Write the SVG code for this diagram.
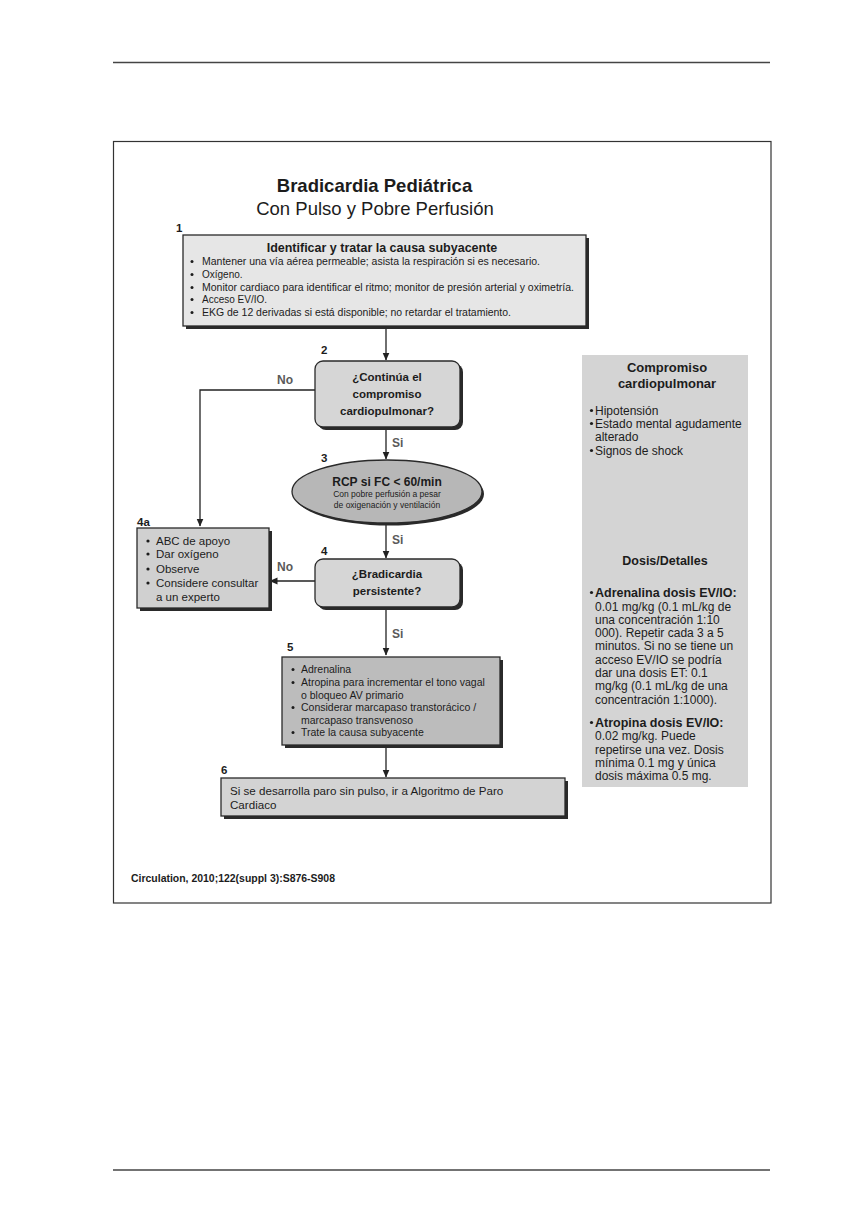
<svg xmlns="http://www.w3.org/2000/svg" width="843" height="1229" viewBox="0 0 843 1229">
<style>
text{font-family:"Liberation Sans",Arial,sans-serif;fill:#1c1c1c}
.b{font-weight:bold}
.num{font-weight:bold;font-size:11.5px}
.lbl{font-weight:bold;font-size:12px;fill:#5a5a5a}
.box{stroke:#2a2a2a;stroke-width:1.3}
.sh{fill:#2a2a2a}
.conn{fill:none;stroke:#222;stroke-width:1.3}
.dot{fill:#1c1c1c}
</style>
<defs>
<marker id="ah" markerWidth="8" markerHeight="8" refX="7.5" refY="4" orient="auto" markerUnits="userSpaceOnUse">
<path d="M0,0.5 L8,4 L0,7.5 z" fill="#222"/>
</marker>
</defs>
<rect x="0" y="0" width="843" height="1229" fill="#ffffff"/>
<line x1="113" y1="62.5" x2="770" y2="62.5" stroke="#444" stroke-width="1.3"/>
<line x1="113" y1="1170" x2="770" y2="1170" stroke="#444" stroke-width="1.3"/>
<rect x="113.5" y="141.5" width="657.5" height="761.5" fill="none" stroke="#333" stroke-width="1.2"/>

<g id="title">
<text x="374.5" y="191.5" text-anchor="middle" class="b" font-size="18.5">Bradicardia Pediátrica</text>
<text x="375" y="215" text-anchor="middle" font-size="18.5">Con Pulso y Pobre Perfusión</text>
</g>

<g id="connectors">
<line class="conn" x1="386" y1="327" x2="386" y2="360" marker-end="url(#ah)"/>
<line class="conn" x1="386" y1="428" x2="386" y2="459" marker-end="url(#ah)"/>
<line class="conn" x1="386" y1="524" x2="386" y2="558" marker-end="url(#ah)"/>
<line class="conn" x1="386" y1="608" x2="386" y2="655" marker-end="url(#ah)"/>
<line class="conn" x1="386" y1="746" x2="386" y2="777" marker-end="url(#ah)"/>
<polyline class="conn" points="315,390 200,390 200,526" marker-end="url(#ah)"/>
<line class="conn" x1="315" y1="581" x2="270" y2="581" marker-end="url(#ah)"/>
<text x="277" y="384" class="lbl">No</text>
<text x="392" y="447" class="lbl">Si</text>
<text x="392" y="544" class="lbl">Si</text>
<text x="277" y="571" class="lbl">No</text>
<text x="392" y="638" class="lbl">Si</text>
</g>

<g id="node1">
<text x="176" y="232" class="num">1</text>
<rect x="186" y="238" width="403" height="91" class="sh"/>
<rect x="183" y="235" width="403" height="91" fill="#e6e6e6" class="box"/>
<text x="382" y="252" text-anchor="middle" class="b" font-size="12.5">Identificar y tratar la causa subyacente</text>
<g font-size="10">
<circle class="dot" cx="192" cy="261.5" r="1.5"/>
<text x="202" y="265" textLength="338" lengthAdjust="spacingAndGlyphs">Mantener una vía aérea permeable; asista la respiración si es necesario.</text>
<circle class="dot" cx="192" cy="274.5" r="1.5"/>
<text x="202" y="278">Oxígeno.</text>
<circle class="dot" cx="192" cy="287.5" r="1.5"/>
<text x="202" y="291" textLength="372" lengthAdjust="spacingAndGlyphs">Monitor cardiaco para identificar el ritmo; monitor de presión arterial y oximetría.</text>
<circle class="dot" cx="192" cy="299.5" r="1.5"/>
<text x="202" y="303">Acceso EV/IO.</text>
<circle class="dot" cx="192" cy="312.5" r="1.5"/>
<text x="202" y="316" textLength="309" lengthAdjust="spacingAndGlyphs">EKG de 12 derivadas si está disponible; no retardar el tratamiento.</text>
</g>
</g>

<g id="node2">
<text x="321" y="354" class="num">2</text>
<rect x="318" y="364" width="145" height="66" rx="8" class="sh"/>
<rect x="315" y="361" width="145" height="66" rx="8" fill="#d6d6d6" class="box"/>
<g class="b" font-size="11.5" text-anchor="middle">
<text x="387" y="381">¿Continúa el</text>
<text x="387" y="398">compromiso</text>
<text x="387" y="415">cardiopulmonar?</text>
</g>
</g>

<g id="node3">
<text x="321" y="462" class="num">3</text>
<ellipse cx="389" cy="494" rx="95" ry="31.5" class="sh"/>
<ellipse cx="387" cy="491.5" rx="95" ry="31.5" fill="#b7b7b7" class="box"/>
<text x="387" y="486" text-anchor="middle" class="b" font-size="12">RCP si FC &lt; 60/min</text>
<text x="387" y="497" text-anchor="middle" font-size="8.5">Con pobre perfusión a pesar</text>
<text x="387" y="507.5" text-anchor="middle" font-size="8.5">de oxigenación y ventilación</text>
</g>

<g id="node4a">
<text x="137" y="526" class="num">4a</text>
<rect x="140" y="531" width="132" height="80" class="sh"/>
<rect x="137" y="528" width="132" height="80" fill="#d0d0d0" class="box"/>
<g font-size="11.5">
<circle class="dot" cx="148" cy="541" r="1.6"/>
<text x="156" y="545">ABC de apoyo</text>
<circle class="dot" cx="148" cy="554" r="1.6"/>
<text x="156" y="558">Dar oxígeno</text>
<circle class="dot" cx="148" cy="569" r="1.6"/>
<text x="156" y="573">Observe</text>
<circle class="dot" cx="148" cy="583" r="1.6"/>
<text x="156" y="587">Considere consultar</text>
<text x="156" y="601">a un experto</text>
</g>
</g>

<g id="node4">
<text x="321" y="555" class="num">4</text>
<rect x="318" y="562" width="145" height="48" rx="8" class="sh"/>
<rect x="315" y="559" width="145" height="48" rx="8" fill="#d6d6d6" class="box"/>
<g class="b" font-size="11.5" text-anchor="middle">
<text x="387" y="578">¿Bradicardia</text>
<text x="387" y="595">persistente?</text>
</g>
</g>

<g id="node5">
<text x="287" y="651" class="num">5</text>
<rect x="285" y="660" width="218" height="88" class="sh"/>
<rect x="282" y="657" width="218" height="88" fill="#bcbcbc" class="box"/>
<g font-size="10.5">
<circle class="dot" cx="293" cy="669.5" r="1.5"/>
<text x="301" y="673">Adrenalina</text>
<circle class="dot" cx="293" cy="682.5" r="1.5"/>
<text x="301" y="686">Atropina para incrementar el tono vagal</text>
<text x="301" y="698.5">o bloqueo AV primario</text>
<circle class="dot" cx="293" cy="707.5" r="1.5"/>
<text x="301" y="711">Considerar marcapaso transtorácico /</text>
<text x="301" y="723.5">marcapaso transvenoso</text>
<circle class="dot" cx="293" cy="732.5" r="1.5"/>
<text x="301" y="736">Trate la causa subyacente</text>
</g>
</g>

<g id="node6">
<text x="221" y="774" class="num">6</text>
<rect x="224" y="781" width="344" height="38" class="sh"/>
<rect x="221" y="778" width="344" height="38" fill="#d3d3d3" class="box"/>
<text x="230" y="795" font-size="11.6">Si se desarrolla paro sin pulso, ir a Algoritmo de Paro</text>
<text x="230" y="808.5" font-size="11.6">Cardiaco</text>
</g>

<g id="sidepanel">
<rect x="582" y="355" width="166" height="432" fill="#d4d4d4"/>
<text x="667" y="372" text-anchor="middle" class="b" font-size="13">Compromiso</text>
<text x="667" y="388" text-anchor="middle" class="b" font-size="13">cardiopulmonar</text>
<g font-size="12">
<circle class="dot" cx="591.5" cy="410.5" r="1.6"/>
<text x="595" y="415">Hipotensión</text>
<circle class="dot" cx="591.5" cy="423.5" r="1.6"/>
<text x="595" y="428">Estado mental agudamente</text>
<text x="595" y="441">alterado</text>
<circle class="dot" cx="591.5" cy="450.5" r="1.6"/>
<text x="595" y="455">Signos de shock</text>
</g>
<text x="665" y="565" text-anchor="middle" class="b" font-size="12.5">Dosis/Detalles</text>
<g font-size="12">
<circle class="dot" cx="591.5" cy="592.5" r="1.6"/>
<text x="595" y="597" class="b" font-size="12.5">Adrenalina dosis EV/IO:</text>
<text x="595" y="610.5">0.01 mg/kg (0.1 mL/kg de</text>
<text x="595" y="623.8">una concentración 1:10</text>
<text x="595" y="637">000). Repetir cada 3 a 5</text>
<text x="595" y="650.3">minutos. Si no se tiene un</text>
<text x="595" y="663.6">acceso EV/IO se podría</text>
<text x="595" y="676.9">dar una dosis ET: 0.1</text>
<text x="595" y="690.2">mg/kg (0.1 mL/kg de una</text>
<text x="595" y="703.5">concentración 1:1000).</text>
<circle class="dot" cx="591.5" cy="722.5" r="1.6"/>
<text x="595" y="727" class="b" font-size="12.5">Atropina dosis EV/IO:</text>
<text x="595" y="740.3">0.02 mg/kg. Puede</text>
<text x="595" y="753.6">repetirse una vez. Dosis</text>
<text x="595" y="766.9">mínima 0.1 mg y única</text>
<text x="595" y="780.2">dosis máxima 0.5 mg.</text>
</g>
</g>

<text x="131" y="882" class="b" font-size="10" textLength="204" lengthAdjust="spacingAndGlyphs">Circulation, 2010;122(suppl 3):S876-S908</text>
</svg>
